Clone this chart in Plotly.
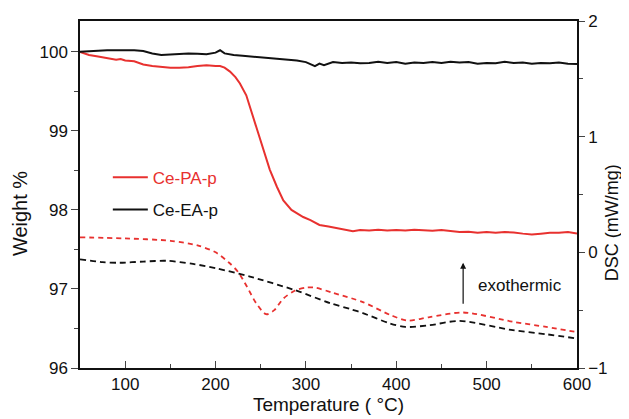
import plotly.graph_objects as go

# ---- TGA data (left axis, Weight %) ----
t_pa = [50, 55, 60, 70, 80, 90, 95, 100, 110, 120, 130, 140, 150, 160, 170, 180, 190, 200, 205, 210,
        216, 222, 227, 234, 240, 247, 253, 260, 268, 275, 284, 297, 305, 315, 325, 334, 345, 352, 360,
        370, 380, 390, 400, 410, 420, 430, 440, 450, 460, 470, 480, 490, 500, 510, 520, 530, 540, 550,
        560, 570, 580, 590, 600]
w_pa = [100.00, 99.98, 99.96, 99.94, 99.92, 99.90, 99.91, 99.89, 99.88, 99.84, 99.82, 99.81, 99.80, 99.80,
        99.805, 99.82, 99.83, 99.82, 99.82, 99.80, 99.75, 99.68, 99.60, 99.45, 99.24, 98.98, 98.76, 98.51,
        98.29, 98.12, 98.00, 97.91, 97.87, 97.81, 97.79, 97.77, 97.75, 97.73, 97.745, 97.74, 97.75, 97.74,
        97.745, 97.74, 97.75, 97.74, 97.735, 97.745, 97.73, 97.72, 97.725, 97.71, 97.72, 97.71, 97.72,
        97.715, 97.70, 97.69, 97.70, 97.71, 97.71, 97.72, 97.70]

t_ea = [50, 60, 70, 80, 90, 100, 110, 120, 130, 140, 150, 160, 170, 180, 190, 200, 205, 210, 220, 230,
        240, 250, 260, 270, 280, 290, 300, 305, 310, 315, 320, 330, 340, 350, 360, 370, 380, 390, 400,
        410, 420, 430, 440, 450, 460, 470, 480, 490, 500, 510, 520, 530, 540, 550, 560, 570, 580, 590, 600]
w_ea = [100.00, 100.01, 100.015, 100.02, 100.02, 100.02, 100.02, 100.01, 99.98, 99.96, 99.965, 99.97,
        99.98, 99.975, 99.97, 99.99, 100.02, 99.98, 99.96, 99.95, 99.94, 99.935, 99.92, 99.915, 99.905,
        99.89, 99.87, 99.85, 99.82, 99.85, 99.83, 99.87, 99.86, 99.865, 99.855, 99.86, 99.875, 99.86,
        99.87, 99.85, 99.865, 99.86, 99.87, 99.86, 99.875, 99.865, 99.87, 99.85, 99.86, 99.855, 99.875,
        99.86, 99.865, 99.85, 99.86, 99.855, 99.865, 99.85, 99.845]

# ---- DSC data (right axis, mW/mg) ----
t_dsc_pa = [50, 100, 150, 180, 200, 215, 225, 235, 245, 256, 265, 275, 288, 300, 310, 330, 363, 393,
            412, 437, 474, 529, 566, 600]
d_pa = [0.13, 0.12, 0.10, 0.06, 0.00, -0.09, -0.17, -0.30, -0.44, -0.535, -0.50, -0.40, -0.33, -0.305,
        -0.305, -0.35, -0.43, -0.54, -0.59, -0.56, -0.52, -0.60, -0.645, -0.69]

t_dsc_ea = [50, 75, 94, 120, 146, 175, 201, 238, 288, 327, 349, 363, 393, 410, 437, 470, 529, 566, 600]
d_ea = [-0.06, -0.085, -0.09, -0.08, -0.073, -0.10, -0.139, -0.21, -0.327, -0.44, -0.49, -0.525,
        -0.615, -0.645, -0.63, -0.593, -0.673, -0.708, -0.745]

RED = "#e8312f"
BLACK = "#111111"
FONT = "Liberation Sans, Arial, sans-serif"

fig = go.Figure()
fig.add_trace(go.Scatter(x=t_pa, y=w_pa, mode="lines", line=dict(color=RED, width=2),
                         name="<span style='color:%s'>Ce-PA-p</span>" % RED, legendgroup="a"))
fig.add_trace(go.Scatter(x=t_ea, y=w_ea, mode="lines", line=dict(color=BLACK, width=2),
                         name="Ce-EA-p", legendgroup="b"))
fig.add_trace(go.Scatter(x=t_dsc_pa, y=d_pa, mode="lines", yaxis="y2", showlegend=False,
                         line=dict(color=RED, width=1.8, dash="5px,4px", shape="spline", smoothing=0.8)))
fig.add_trace(go.Scatter(x=t_dsc_ea, y=d_ea, mode="lines", yaxis="y2", showlegend=False,
                         line=dict(color=BLACK, width=1.8, dash="6px,4px", shape="spline", smoothing=0.8)))

fig.add_annotation(x=474, y=-0.09, ax=474, ay=-0.457, xref="x", yref="y2", axref="x", ayref="y2",
                   text="", showarrow=True, arrowhead=2, arrowsize=1, arrowwidth=1.2, arrowcolor=BLACK)
fig.add_annotation(x=488, y=-0.29, xref="x", yref="y2", text="exothermic", showarrow=False,
                   xanchor="left", font=dict(size=17, color=BLACK, family=FONT))

# y-axis titles (placed as rotated text, as in the reference they sit below centre)
fig.add_annotation(x=-0.121, y=0.446, xref="paper", yref="paper", text="Weight %", textangle=-90,
                   showarrow=False, xanchor="center", yanchor="middle",
                   font=dict(size=20, color=BLACK, family=FONT))
fig.add_annotation(x=1.0704, y=0.42, xref="paper", yref="paper", text="DSC (mW/mg)", textangle=-90,
                   showarrow=False, xanchor="center", yanchor="middle",
                   font=dict(size=18, color=BLACK, family=FONT))

# the page adds an 8px body margin, so the figure is 8px smaller than the window
fig.update_layout(
    width=621, height=411,
    margin=dict(l=72, r=52, t=13, b=51, autoexpand=False),
    paper_bgcolor="white", plot_bgcolor="white",
    font=dict(family=FONT, size=17, color=BLACK),
    showlegend=True,
    legend=dict(x=0.056, y=0.6, xanchor="left", yanchor="top", bgcolor="rgba(0,0,0,0)",
                traceorder="grouped", tracegroupgap=7, font=dict(size=17), itemwidth=35),
    xaxis=dict(range=[50, 600], dtick=100, tick0=0, ticks="inside", ticklen=7, tickwidth=1.2,
               automargin=False,
               showline=True, linecolor=BLACK, linewidth=1.5, mirror=True, showgrid=False, zeroline=False,
               minor=dict(dtick=50, tick0=0, ticks="inside", ticklen=4, tickwidth=1.2, showgrid=False),
               title=dict(text="Temperature ( °C)", font=dict(size=19), standoff=5),
               tickfont=dict(size=17)),
    yaxis=dict(range=[96, 100.39], dtick=1, tick0=96, ticks="outside", ticklen=7, tickwidth=1.2,
               automargin=False,
               showline=True, linecolor=BLACK, linewidth=1.5, showgrid=False, zeroline=False,
               minor=dict(dtick=0.5, tick0=96, ticks="outside", ticklen=4, tickwidth=1.2, showgrid=False),
               tickfont=dict(size=17)),
    yaxis2=dict(range=[-1, 2.0], dtick=1, tick0=-1, ticks="outside", ticklen=6, tickwidth=1.2,
                overlaying="y", side="right", anchor="x", automargin=False,
                showline=True, linecolor=BLACK, linewidth=1.5, showgrid=False, zeroline=False,
                minor=dict(dtick=0.5, tick0=-1, ticks="outside", ticklen=4, tickwidth=1.2, showgrid=False),
                tickfont=dict(size=17)),
)

fig.write_html("out.html")
